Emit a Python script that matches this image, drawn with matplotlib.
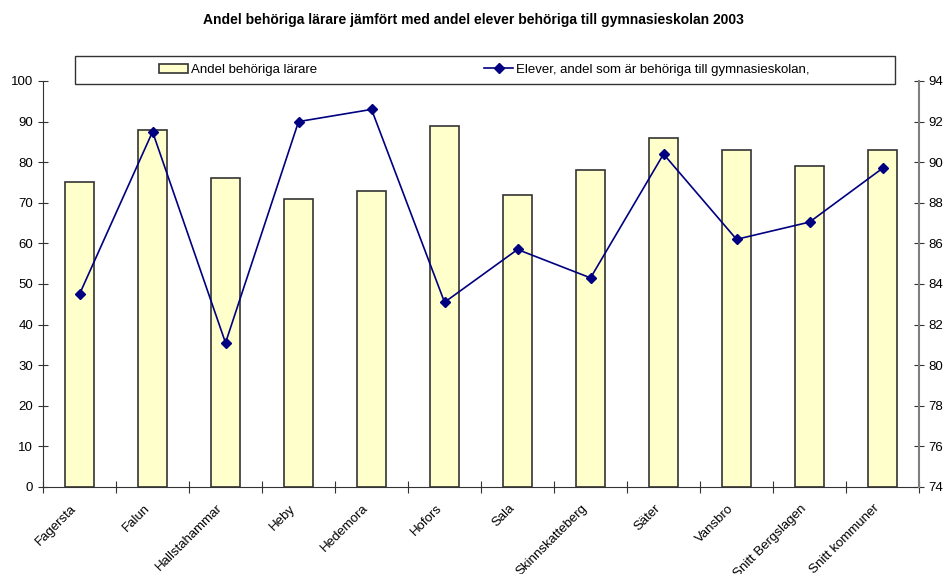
import numpy as np
import matplotlib.pyplot as plt
import matplotlib.transforms as mtransforms
from matplotlib.patches import Rectangle

plt.rcParams['font.family'] = ['Liberation Sans', 'DejaVu Sans']

kommuner = ["Fagersta", "Falun", "Hallstahammar", "Heby", "Hedemora", "Hofors",
            "Sala", "Skinnskatteberg", "Säter", "Vansbro", "Snitt Bergslagen",
            "Snitt kommuner"]
larare = [75, 88, 76, 71, 73, 89, 72, 78, 86, 83, 79, 83]
elever = [83.5, 91.5, 81.1, 92.0, 92.6, 83.1, 85.7, 84.3, 90.4, 86.2, 87.05, 89.7]

fig = plt.figure(figsize=(9.46, 5.74), dpi=100)
ax = fig.add_axes([0.0455, 0.1516, 0.926, 0.7073])
x = np.arange(len(kommuner))

ax.bar(x, larare, width=0.4, color="#FFFFCC", edgecolor="#333333", linewidth=1.2,
       label="Andel behöriga lärare", zorder=2)
ax.set_xlim(-0.5, len(kommuner) - 0.5)
ax.set_ylim(0, 100)
ax.set_yticks(range(0, 101, 10))
ax.set_xticks(np.arange(-0.5, len(kommuner), 1.0))
ax.set_xticklabels([])
ax.set_xticks(x, minor=True)
ax.set_xticklabels(kommuner, minor=True, rotation=45, ha="right",
                   rotation_mode="anchor", fontsize=9.5)
ax.tick_params(axis="x", which="minor", length=0, pad=11)
ax.tick_params(axis="x", which="major", direction="inout", length=8, color="#333333")
ax.tick_params(axis="y", direction="inout", length=7, labelsize=9.5, color="#333333")
shift = mtransforms.ScaledTranslation(-9 / 100, 0, fig.dpi_scale_trans)
for lab in ax.get_xticklabels(minor=True):
    lab.set_transform(lab.get_transform() + shift)
ax.spines["top"].set_visible(False)
ax.spines["right"].set_visible(False)
ax.spines["left"].set_color("#333333")
ax.spines["bottom"].set_color("#333333")

ax2 = ax.twinx()
ax2.plot(x, elever, color="#000080", marker="D", markersize=5, linewidth=1.2,
         label="Elever, andel som är behöriga till gymnasieskolan,", zorder=3)
ax2.set_ylim(74, 94)
ax2.set_yticks(range(74, 95, 2))
ax2.tick_params(axis="y", direction="inout", length=7, labelsize=9.5, color="#333333")
ax2.spines["top"].set_visible(False)
ax2.spines["left"].set_visible(False)
ax2.spines["bottom"].set_visible(False)
ax2.spines["right"].set_color("#808080")
ax2.spines["right"].set_linewidth(1.5)

# legend box
fig.patches.append(Rectangle((75 / 946, 1 - 84 / 574), 820 / 946, 28 / 574,
                             transform=fig.transFigure, facecolor="white",
                             edgecolor="#333333", linewidth=1.0, zorder=5))
h1, l1 = ax.get_legend_handles_labels()
h2, l2 = ax2.get_legend_handles_labels()
leg = fig.legend(h1 + h2, l1 + l2, ncol=2, loc="center left",
                 bbox_to_anchor=(147 / 946, 1 - 70 / 574), frameon=False,
                 fontsize=9.5, columnspacing=12.7, handlelength=2.2,
                 handletextpad=0.2)
leg.set_zorder(6)

fig.suptitle("Andel behöriga lärare jämfört med andel elever behöriga till gymnasieskolan 2003",
             fontsize=10, fontweight="bold", y=1 - 20 / 574, va="center")

fig.savefig("out.png", dpi=100)
